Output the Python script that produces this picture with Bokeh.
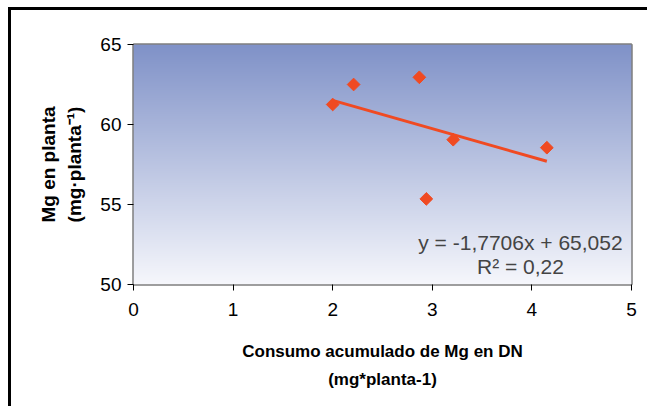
import numpy as np
from bokeh.plotting import figure
from bokeh.models import Label, Range1d, FixedTicker
from bokeh.embed import file_html
from bokeh.resources import INLINE

# data
consumo = [2.00, 2.21, 2.87, 2.94, 3.21, 4.15]
mg_planta = [61.25, 62.5, 62.95, 55.35, 59.05, 58.55]
slope = -1.7706
intercept = 65.052
x_ticks = [0, 1, 2, 3, 4, 5]
y_ticks = [50, 55, 60, 65]

FONT = "Liberation Sans"
RED = "#f04a22"

p = figure(width=639, height=399, output_backend="svg", toolbar_location=None,
           x_range=Range1d(0, 5), y_range=Range1d(50, 65),
           min_border_left=122, min_border_right=19, min_border_top=34, min_border_bottom=125,
           styles={"border-left": "3px solid black", "border-top": "3px solid black",
                   "margin-left": "8px", "margin-top": "7px"})

# gradient background of the plot area
n = 240
top = np.array([128, 146, 200])
bot = np.array([246, 247, 252])
t = np.linspace(0, 1, n)[:, None]
cols = (bot * (1 - t) + top * t).astype(np.uint32)  # row 0 = bottom
img = np.zeros((n, 2), dtype=np.uint32)
view = img.view(dtype=np.uint8).reshape((n, 2, 4))
view[:, :, 0] = cols[:, 0:1]
view[:, :, 1] = cols[:, 1:2]
view[:, :, 2] = cols[:, 2:3]
view[:, :, 3] = 255
p.image_rgba(image=[img], x=p.x_range.start, y=p.y_range.start,
             dw=p.x_range.end - p.x_range.start, dh=p.y_range.end - p.y_range.start)

p.grid.visible = False
p.background_fill_color = "white"
p.border_fill_color = "white"
p.outline_line_color = "#7f7f7f"
p.outline_line_width = 2.5

# trend line
xl = np.array([min(consumo), max(consumo)])
p.line(xl, slope * xl + intercept, line_color=RED, line_width=3)
p.scatter(consumo, mg_planta, marker="square", angle=np.pi / 4, size=9,
          fill_color=RED, line_color=RED, line_width=1)

p.add_layout(Label(x=3.885, y=52.6, text="y = -1,7706x + 65,052", text_align="center",
                   text_baseline="middle", text_font=FONT, text_font_size="21px"))
p.add_layout(Label(x=3.885, y=51.1, text="R² = 0,22", text_align="center",
                   text_baseline="middle", text_font=FONT, text_font_size="21px"))

for ax in (p.xaxis[0], p.yaxis[0]):
    ax.axis_line_color = None
    ax.major_tick_line_color = "black"
    ax.major_tick_line_width = 1
    ax.major_tick_out = 6
    ax.major_tick_in = 0
    ax.minor_tick_line_color = None
    ax.major_label_text_font = FONT
    ax.major_label_text_font_size = "19px"
    ax.major_label_text_color = "black"
    ax.axis_label_text_font = FONT
    ax.axis_label_text_font_style = "bold"
    ax.axis_label_text_color = "black"
    ax.axis_label_text_line_height = 1.5

p.xaxis.axis_label_text_font_size = "17px"
p.yaxis.axis_label_text_font_size = "19px"
p.yaxis.axis_label_text_line_height = 1.25
p.xaxis.ticker = FixedTicker(ticks=x_ticks)
p.yaxis.ticker = FixedTicker(ticks=y_ticks)
p.xaxis.axis_label = "Consumo acumulado de Mg en DN\n(mg*planta-1)"
p.yaxis.axis_label = "Mg en planta\n(mg·planta⁻¹)"
p.xaxis.major_label_standoff = 12
p.yaxis.major_label_standoff = 6
p.xaxis.axis_label_standoff = 23
p.yaxis.axis_label_standoff = 12

open("out.html", "w").write(file_html(p, INLINE))
